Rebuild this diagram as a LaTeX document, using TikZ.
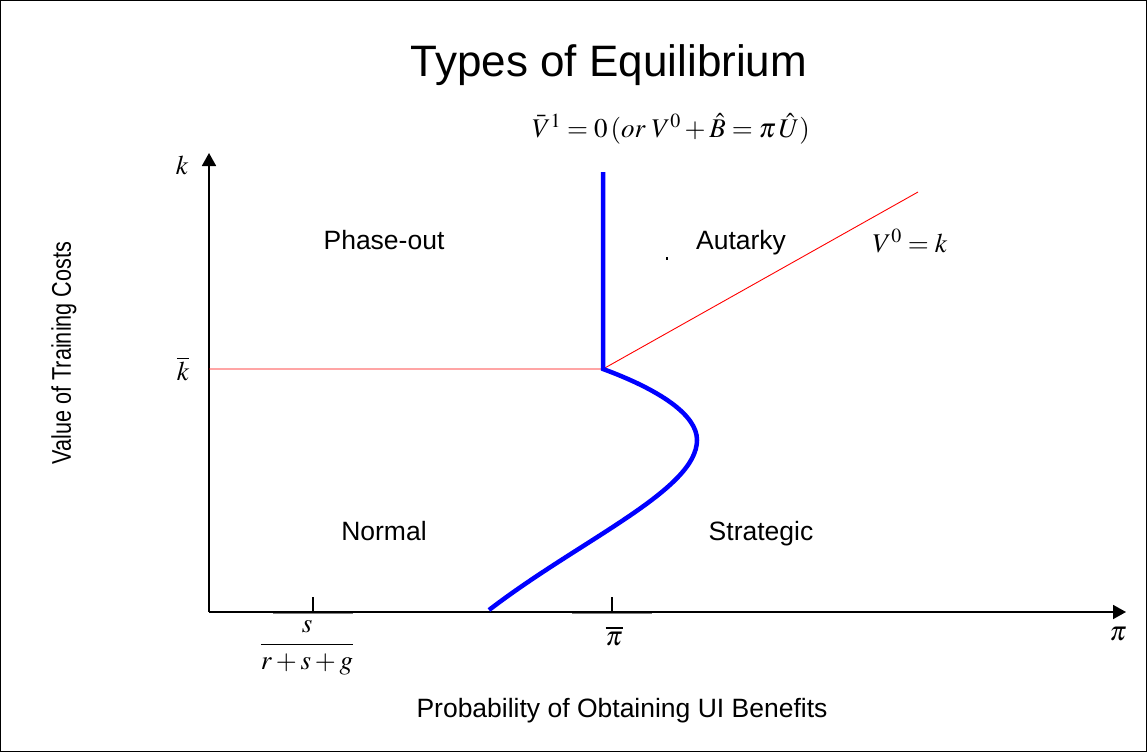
\documentclass[tikz,border=0pt]{standalone}
\usepackage{fix-cm}
\usepackage{amsmath}
\usepackage{mathptmx}
\usepackage[no-math]{fontspec}
\setmainfont{Liberation Sans}
\usetikzlibrary{positioning, arrows.meta, calc}

\begin{document}
\begin{tikzpicture}[x=1pt, y=-1pt,
  lbl/.style={font=\fontsize{26.5}{30}\selectfont, inner sep=0pt, anchor=base},
  mth/.style={font=\fontsize{27}{32}\selectfont, inner sep=0pt},
  axis/.style={line width=1.8pt, -{Triangle[length=13pt, width=14pt]}},
  bound/.style={red, line width=0.9pt},
  regime/.style={blue, line width=4.5pt, line join=miter}]

\useasboundingbox (0,0) rectangle (1147,752);
\draw[line width=1pt] (0.5,0.5) rectangle (1146.5,751.5);

% --- title and axis names ---
\node[font=\fontsize{44}{50}\selectfont, inner sep=0pt, anchor=base] (title) at (609,77) {Types of Equilibrium};
\node[font=\fontsize{27}{30}\selectfont, inner sep=0pt, rotate=90] (ylabel) at (64,353) {\scalebox{0.8}[1]{Value of Training Costs}};
\node[lbl] (xlabel) at (622,717) {Probability of Obtaining UI Benefits};

% --- axes ---
\coordinate (O) at (209,612);
\coordinate (ytop) at (209,153);
\coordinate (xend) at (1126,612);
\coordinate (t1) at (313,612);
\coordinate (t2) at (612,612);
% faint segments under the ticks
\draw[gray, line width=3pt] ($(t1)+(-40,0)$) -- ($(t1)+(40,0)$);
\draw[gray, line width=3pt] ($(t2)+(-40,0)$) -- ($(t2)+(40,0)$);
\draw[axis] (O) -- (ytop);
\draw[axis] (O) -- (xend);
\draw[line width=1.2pt] (t1) -- ++(0,-15);
\draw[line width=1.2pt] (t2) -- ++(0,-15);

% axis marks
\node[mth] (k) at (182,165) {$k$};
\node[mth] (kbar) at (183,369) {$\overline{k}$};
\node[mth] (pi) at (1118,634) {$\pi$};
\node[mth] (pibar) at (614,636) {$\overline{\pi}$};
\node[mth] (frac) at (307,648) {$\displaystyle\frac{s}{r+s+g}$};

% --- boundaries ---
\coordinate (kleft) at (209,369);
\coordinate (kink) at (603,369);
\coordinate (vzero) at (918,192);
\coordinate (vtop) at (603,172);
\coordinate (nose) at (697,440);
\coordinate (foot) at (489,610);
\draw[bound] (kleft) -- (kink) -- (vzero);
\draw[regime] (vtop) -- (kink) .. controls (660,390) and (697,415) .. (nose)
  .. controls (697,490) and (580,540) .. (foot);

\node[mth, anchor=base] (vzerolbl) at (910,252) {$V^0 = k$};
\node[mth, anchor=base] (vonelbl) at (671,137) {$\bar{V}^1 = 0\,(or\;V^0 + \hat{B} = \pi\,\hat{U})$};

% --- regions ---
\node[lbl] (phase) at (384,249) {Phase-out};
\node[lbl] (autarky) at (741,249) {Autarky};
\node[lbl] (normal) at (384,540) {Normal};
\node[lbl] (strategic) at (761,540) {Strategic};
\fill (666,257) rectangle (668,260);

\end{tikzpicture}
\end{document}
